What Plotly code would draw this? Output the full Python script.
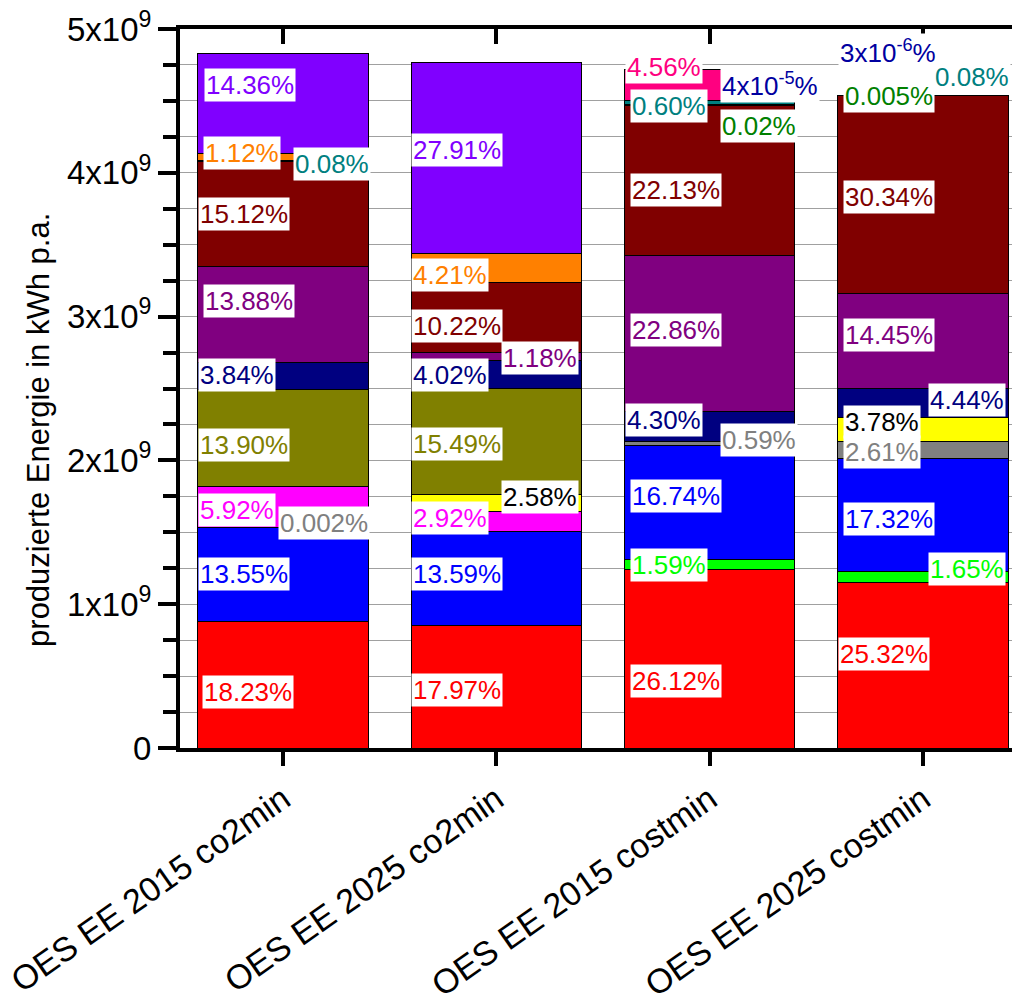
import plotly.graph_objects as go

# Scenarios shown on the x axis
categories = ["OES EE 2015 co2min", "OES EE 2025 co2min",
              "OES EE 2015 costmin", "OES EE 2025 costmin"]

# Total produced energy of each scenario in kWh p.a.
totals = [4.83e9, 4.76e9, 4.74e9, 4.54e9]

# Share of each source in the total, in percent (None = source not used)
share_red = [18.23, 17.97, 26.12, 25.32]
share_green = [None, None, 1.59, 1.65]
share_blue = [13.55, 13.59, 16.74, 17.32]
share_gray = [0.002, None, 0.59, 2.61]
share_magenta = [5.92, 2.92, None, None]
share_yellow = [None, 2.58, None, 3.78]
share_olive = [13.90, 15.49, None, None]
share_navy = [3.84, 4.02, 4.30, 4.44]
share_purple = [13.88, 1.18, 22.86, 14.45]
share_darkred = [15.12, 10.22, 22.13, 30.34]
share_darkgreen = [None, None, 0.02, 0.005]
share_teal = [0.08, None, 0.60, 0.08]
share_orange = [1.12, 4.21, None, None]
share_violet = [14.36, 27.91, None, None]
share_pink = [None, None, 4.56, None]
share_darkblue = [None, None, 4e-5, 3e-6]

y_ticks = [0, 1e9, 2e9, 3e9, 4e9, 5e9]
y_tick_text = ["0", "1x10<sup>9</sup>", "2x10<sup>9</sup>", "3x10<sup>9</sup>",
               "4x10<sup>9</sup>", "5x10<sup>9</sup>"]

# (shares, fill colour, label colour, label nudges per scenario: (dx px from bar centre, dy px))
series = [
    (share_red, "#FF0000", "#FF0000", [(-81, -7), (-85, -3), (-80, -22), (-85, 11)]),
    (share_green, "#00FF00", "#00FF00", [None, None, (-80, 0), (5, 8)]),
    (share_blue, "#0000FF", "#0000FF", [(-85, 0), (-85, 4), (-80, 6), (-80, -4)]),
    (share_gray, "#808080", "#808080", [(-5, 4), None, (10, 3), (-80, -2)]),
    (share_magenta, "#FF00FF", "#FF00FF", [(-85, -3), (-85, 4), None, None]),
    (share_yellow, "#FFFF00", "#000000", [None, (5, 6), None, (-80, 7)]),
    (share_olive, "#808000", "#808000", [(-85, -7), (-85, -3), None, None]),
    (share_navy, "#000080", "#000080", [(-85, 1), (-85, 0), (-85, 6), (5, 3)]),
    (share_purple, "#800080", "#800080", [(-80, 14), (5, -1), (-80, 4), (-80, 6)]),
    (share_darkred, "#800000", "#800000", [(-85, 0), (-85, -8), (-80, -10), (-80, -2)]),
    (share_darkgreen, "#008000", "#008000", [None, None, (10, -21), (-80, 0)]),
    (share_teal, "#008080", "#008080", [(10, -3), None, (-80, -3), (10, 18)]),
    (share_orange, "#FF8000", "#FF8000", [(-80, 4), (-85, -7), None, None]),
    (share_violet, "#8000FF", "#8000FF", [(-79, 18), (-85, 8), None, None]),
    (share_pink, "#FF0080", "#FF0080", [None, None, (-85, 18), None]),
    (share_darkblue, "#0000A0", "#0000A0", [None, None, (10, -15), (-85, 44)]),
]


def pct_text(v):
    if v >= 0.01:
        return f"{v:.2f}%"
    if v >= 0.001:
        return f"{v:.3f}%"
    mant, exp = f"{v:.0e}".split("e")
    return f"{mant}x10<sup>{int(exp)}</sup>%"


FONT = "Arial, Liberation Sans, sans-serif"
x_pos = list(range(len(categories)))

fig = go.Figure()
annotations = []
base = [0.0] * len(categories)

for shares, fill, text_col, nudges in series:
    values = [None if s is None else s / 100.0 * t for s, t in zip(shares, totals)]
    fig.add_trace(go.Bar(
        x=x_pos, y=values, width=0.797,
        marker=dict(color=fill, line=dict(color="black", width=1)),
        showlegend=False, hoverinfo="skip",
    ))
    for i, (s, v) in enumerate(zip(shares, values)):
        if v is None:
            continue
        mid = base[i] + v / 2.0
        dx, dy = nudges[i]
        annotations.append(dict(
            x=i, y=mid, xref="x", yref="y", text=pct_text(s),
            showarrow=False, xanchor="left", yanchor="middle",
            xshift=dx, yshift=dy, bgcolor="white", borderpad=1,
            font=dict(family=FONT, size=26, color=text_col),
        ))
        base[i] += v

# companion axis that draws the top frame line with inward ticks
fig.add_trace(go.Scatter(x=[0], y=[0], xaxis="x2", yaxis="y", mode="markers",
                         marker=dict(opacity=0), showlegend=False, hoverinfo="skip"))

annotations.append(dict(
    text="produzierte Energie in kWh p.a.", xref="paper", yref="paper",
    x=-0.171, y=0.442, xanchor="center", yanchor="middle",
    showarrow=False, textangle=-90,
    font=dict(family=FONT, size=31, color="black"),
))

x_range = [-0.4828, 3.4172]

fig.update_layout(
    width=1012, height=1007,
    margin=dict(l=180, r=0, t=29, b=259, autoexpand=False),
    barmode="stack",
    plot_bgcolor="white", paper_bgcolor="white",
    showlegend=False,
    font=dict(family=FONT, color="black"),
    annotations=annotations,
    xaxis=dict(
        range=x_range, tickmode="array", tickvals=x_pos, ticktext=categories,
        tickangle=-35, tickfont=dict(size=34, family=FONT, color="black"),
        ticks="outside", ticklen=14, tickwidth=4, tickcolor="black",
        showline=True, linewidth=4, linecolor="black",
        showgrid=False, zeroline=False,
    ),
    xaxis2=dict(
        range=x_range, overlaying="x", side="top", matches="x",
        tickmode="array", tickvals=x_pos, showticklabels=False,
        ticks="inside", ticklen=15, tickwidth=4, tickcolor="black",
        showline=True, linewidth=4, linecolor="black",
        showgrid=False, zeroline=False,
    ),
    yaxis=dict(
        range=[0, 5e9], tickmode="array", tickvals=y_ticks, ticktext=y_tick_text,
        tickfont=dict(size=33, family=FONT, color="black"),
        ticks="outside", ticklen=18, tickwidth=4, tickcolor="black",
        showline=True, linewidth=4, linecolor="black",
        showgrid=True, gridcolor="#A0A0A0", gridwidth=1, zeroline=False,
        minor=dict(tickmode="linear", tick0=0, dtick=0.25e9, ticks="outside",
                   ticklen=13, tickwidth=4, tickcolor="black",
                   showgrid=True, gridcolor="#A0A0A0", gridwidth=1),
    ),
)

fig.write_html("out.html")
